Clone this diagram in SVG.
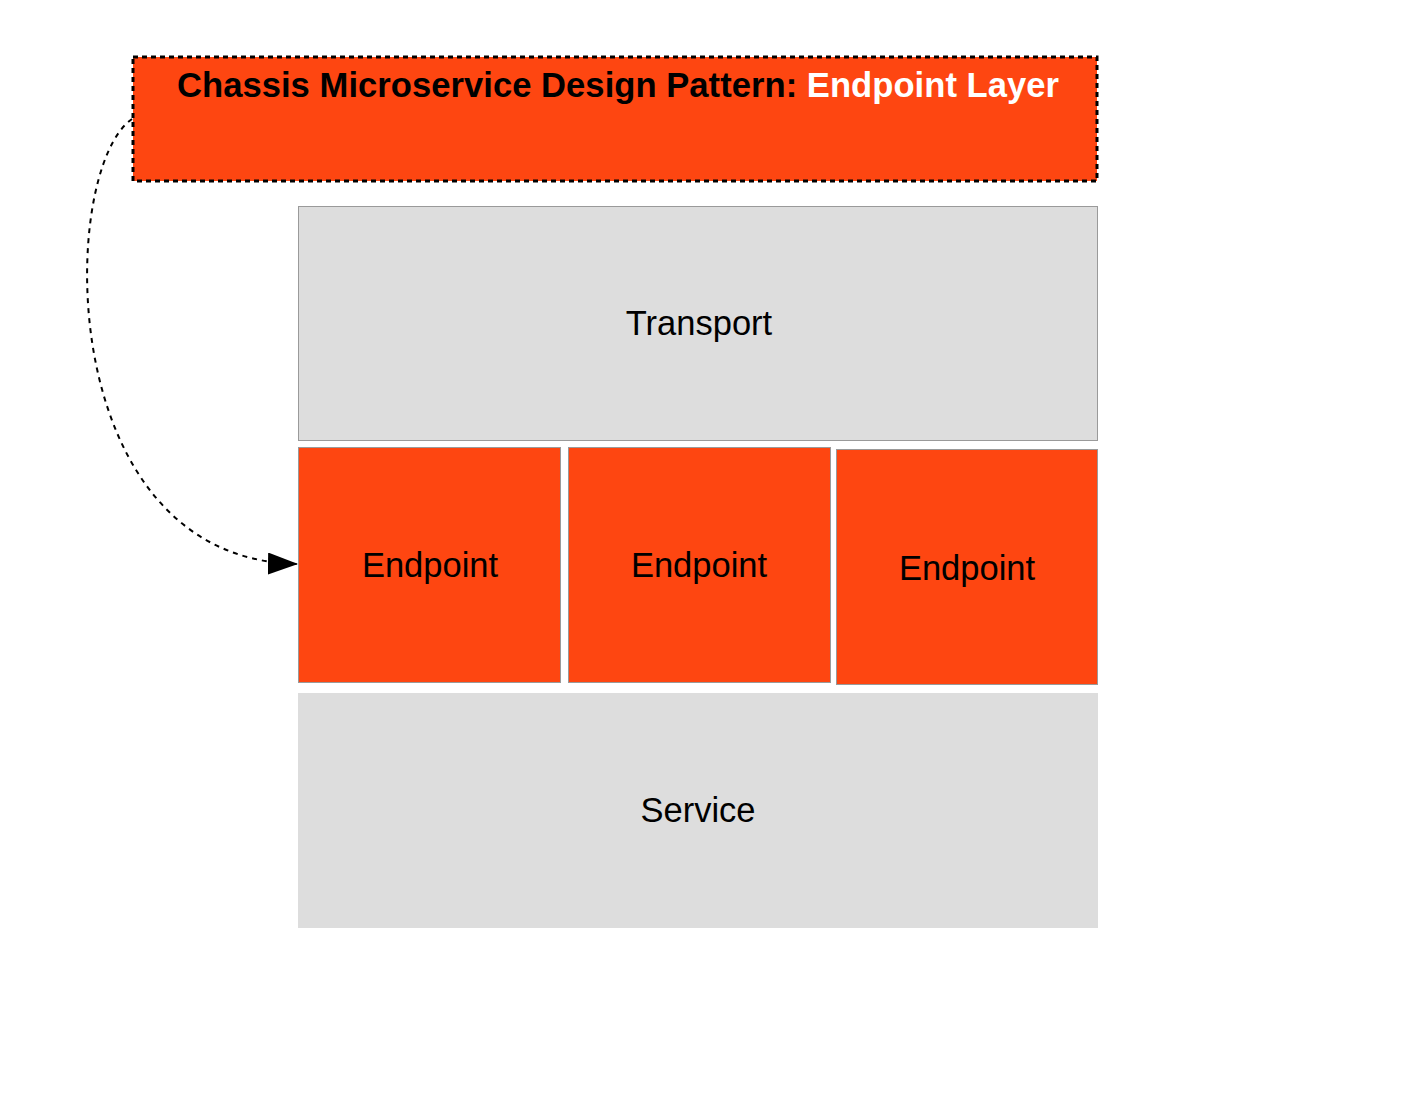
<svg xmlns="http://www.w3.org/2000/svg" width="1419" height="1097" viewBox="0 0 1419 1097">
<style>
.lbl{font-family:"Liberation Sans",Arial,sans-serif;font-size:34.5px;fill:#000;text-anchor:middle}
.ttl{font-family:"Liberation Sans",Arial,sans-serif;font-size:34.6px;font-weight:bold;text-anchor:middle}
.grey{fill:#dddddd;stroke:#9a9a9a;stroke-width:1}
.ep{fill:#fe4611;stroke:#9a9a9a;stroke-width:1}
</style>
<defs>
<marker id="arr" markerUnits="userSpaceOnUse" markerWidth="32" markerHeight="22" refX="30" refY="11" orient="auto">
<path d="M0,0 L30,11 L0,22 Z" fill="#000"/>
</marker>
</defs>
<rect width="1419" height="1097" fill="#fff"/>
<g id="title">
<rect x="133" y="57" width="964" height="124" fill="#fe4611" stroke="#000" stroke-width="3" stroke-dasharray="5,4"/>
<text class="ttl" x="618" y="97" textLength="882" lengthAdjust="spacing"><tspan fill="#000">Chassis Microservice Design Pattern: </tspan><tspan fill="#fff">Endpoint Layer</tspan></text>
</g>
<g id="transport">
<rect class="grey" x="298.5" y="206.5" width="799" height="234"/>
<text class="lbl" x="699" y="335">Transport</text>
</g>
<g id="endpoint1">
<rect class="ep" x="298.5" y="447.5" width="262" height="235"/>
<text class="lbl" x="430" y="577">Endpoint</text>
</g>
<g id="endpoint2">
<rect class="ep" x="568.5" y="447.5" width="262" height="235"/>
<text class="lbl" x="699" y="577">Endpoint</text>
</g>
<g id="endpoint3">
<rect class="ep" x="836.5" y="449.5" width="261" height="235"/>
<text class="lbl" x="967" y="580">Endpoint</text>
</g>
<g id="service">
<rect x="298" y="693" width="800" height="235" fill="#dddddd"/>
<text class="lbl" x="698" y="822">Service</text>
</g>
<g id="connectors">
<path d="M132,119 C58,170 52,560 298,564" fill="none" stroke="#000" stroke-width="2" stroke-dasharray="5,5" marker-end="url(#arr)"/>
</g>
</svg>
